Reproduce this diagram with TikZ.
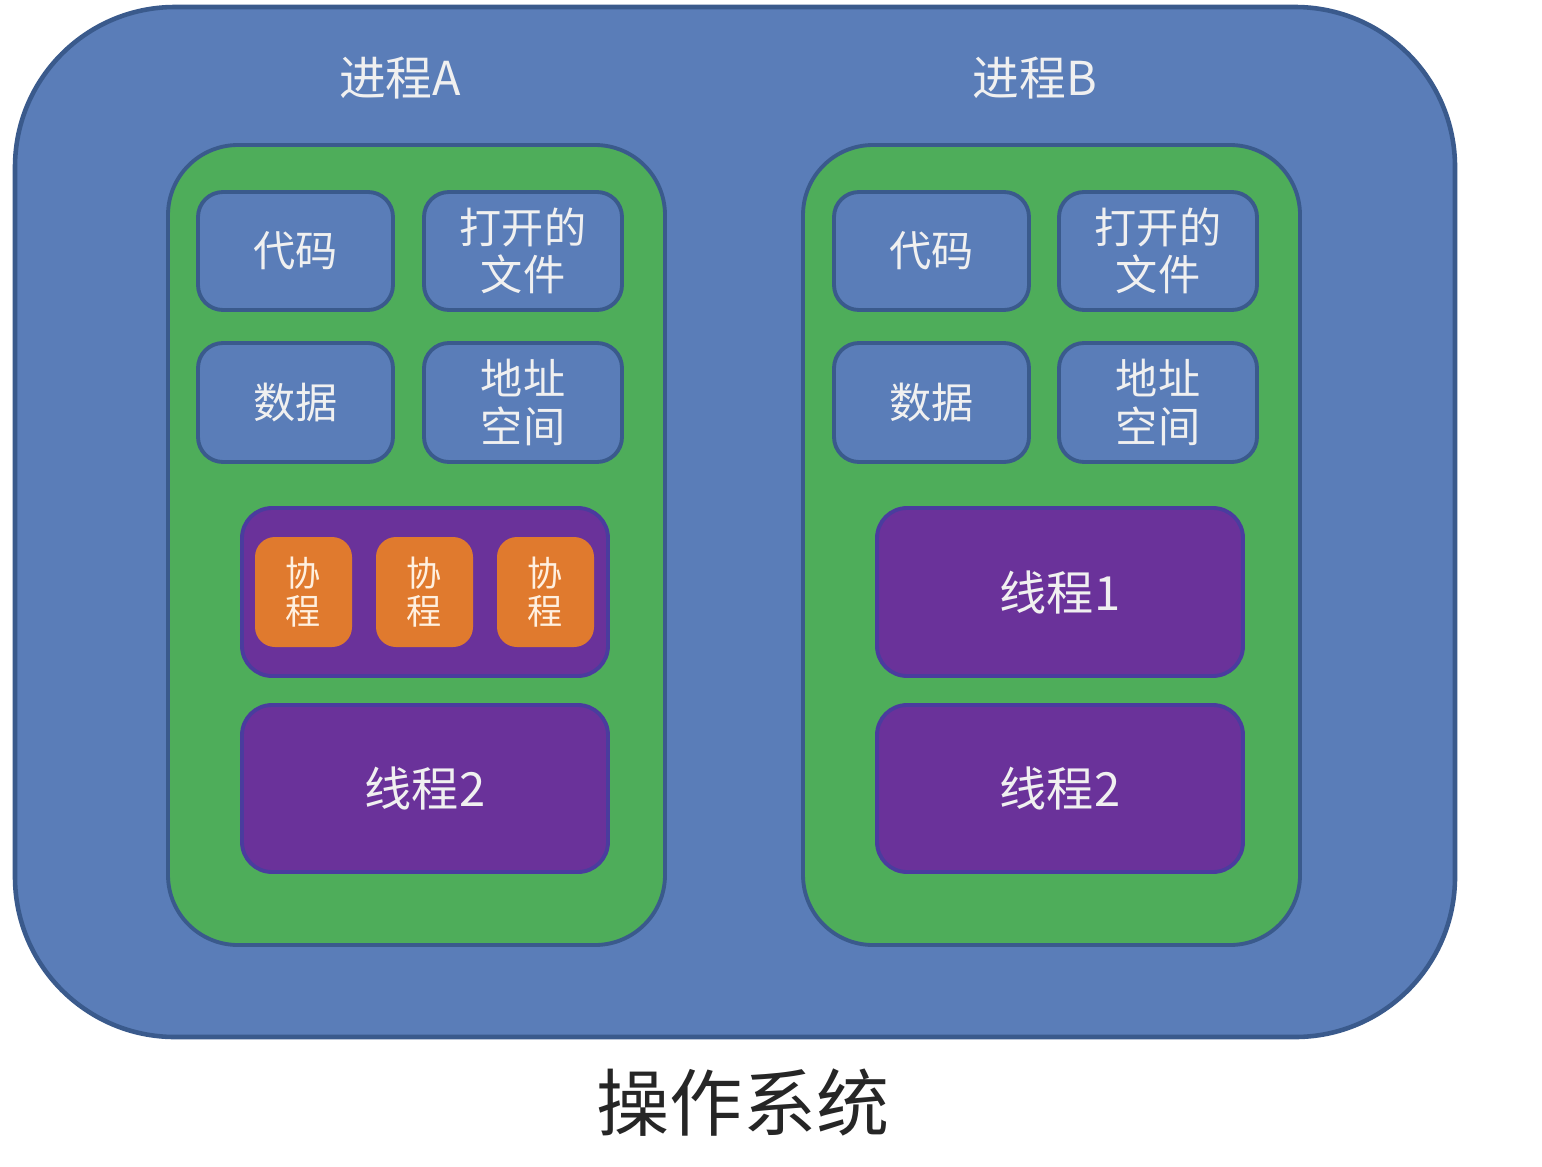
\documentclass[tikz,border=0pt]{standalone}
\usepackage{fontspec}
\setmainfont{Noto Sans CJK SC}
\usepackage{tikz}
\usetikzlibrary{positioning}
\definecolor{osblue}{HTML}{5A7DB8}
\definecolor{edgeblue}{HTML}{3A5A8C}
\definecolor{procgreen}{HTML}{4EAD5A}
\definecolor{thrpurple}{HTML}{6A329A}
\definecolor{thredge}{HTML}{4A3C9E}
\definecolor{coorange}{HTML}{E07A2E}
\tikzset{
  osbox/.style  ={rectangle, rounded corners=16mm, draw=edgeblue, line width=1.3pt, fill=osblue},
  procbox/.style={rectangle, rounded corners=7mm, draw=edgeblue, line width=1.1pt, fill=procgreen},
  res/.style    ={rectangle, rounded corners=2.5mm, draw=edgeblue, line width=1.1pt, fill=osblue,
                  minimum width=19.5mm, minimum height=11.8mm, align=center, text=white!94!black,
                  font=\fontsize{12}{13.4}\selectfont},
  thr/.style    ={rectangle, rounded corners=3mm, draw=thredge, line width=1.1pt, fill=thrpurple,
                  minimum width=36.6mm, minimum height=16.7mm, align=center, text=white!94!black,
                  font=\fontsize{13.4}{15}\selectfont},
  co/.style     ={rectangle, rounded corners=2mm, fill=coorange, minimum width=9.7mm,
                  minimum height=11mm, align=center, text=white!88!orange,
                  font=\fontsize{10}{10.8}\selectfont},
  ttl/.style    ={text=white!94!black, font=\fontsize{13.3}{15}\selectfont},
}
\begin{document}
\begin{tikzpicture}
  \useasboundingbox[fill=white] (0,0) rectangle (15.42,-11.66);
  % operating system
  \node[osbox, minimum width=144mm, minimum height=103mm] (os) at (7.35,-5.22) {};
  \node[font=\fontsize{20.8}{23}\selectfont, text=black!85] (oslbl) at (7.43,-11.03) {操作系统};
  % process A
  \node[ttl] (pAlbl) at (4.0,-0.78) {进程A};
  \node[procbox, minimum width=49.7mm, minimum height=80mm] (pA) at (4.165,-5.45) {};
  \node[res] (codeA) at (2.955,-2.51) {代码};
  \node[res, minimum width=19.8mm] (fileA) at (5.23,-2.51) {打开的\\文件};
  \node[res, minimum height=11.9mm] (dataA) at (2.955,-4.025) {数据};
  \node[res, minimum width=19.8mm, minimum height=11.9mm] (addrA) at (5.23,-4.025) {地址\\空间};
  \node[thr, minimum height=16.8mm] (thrA1) at (4.25,-5.92) {};
  \node[co] (coA1) at (3.035,-5.92) {协\\程};
  \node[co] (coA2) at (4.245,-5.92) {协\\程};
  \node[co] (coA3) at (5.455,-5.92) {协\\程};
  \node[thr] (thrA2) at (4.25,-7.885) {线程2};
  % process B
  \node[ttl] (pBlbl) at (10.35,-0.78) {进程B};
  \node[procbox, minimum width=49.7mm, minimum height=80mm] (pB) at (10.515,-5.45) {};
  \node[res] (codeB) at (9.315,-2.51) {代码};
  \node[res, minimum width=19.8mm] (fileB) at (11.58,-2.51) {打开的\\文件};
  \node[res, minimum height=11.9mm] (dataB) at (9.315,-4.025) {数据};
  \node[res, minimum width=19.8mm, minimum height=11.9mm] (addrB) at (11.58,-4.025) {地址\\空间};
  \node[thr, minimum height=16.8mm] (thrB1) at (10.60,-5.92) {线程1};
  \node[thr] (thrB2) at (10.60,-7.885) {线程2};
\end{tikzpicture}
\end{document}
